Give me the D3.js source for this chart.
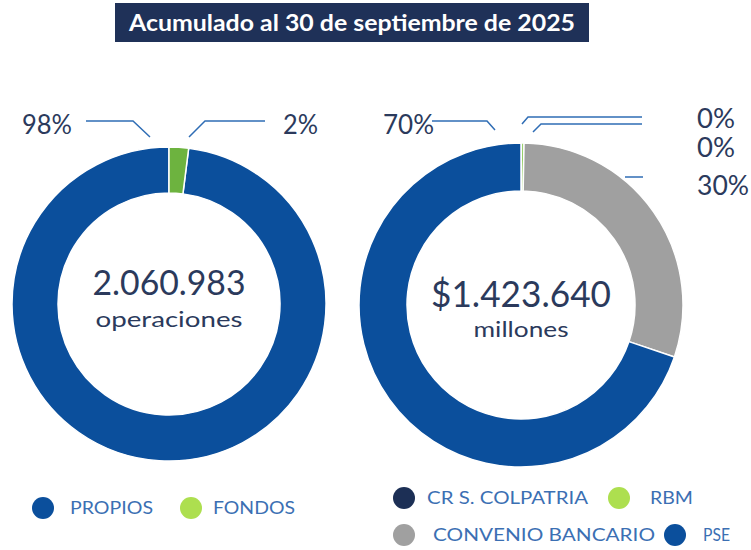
<!DOCTYPE html>
<html>
<head>
<meta charset="utf-8">
<script src="https://cdn.jsdelivr.net/npm/d3@7"></script>
<style>
  body { margin: 0; background: #fff; }
  svg { display: block; font-family: "Lato", "Noto Sans", sans-serif; }
</style>
</head>
<body>
<div id="chart"></div>
<script>
// data
var title = "Acumulado al 30 de septiembre de 2025";

var opsCategories = ["PROPIOS", "FONDOS"];
var opsValues = [98, 2];
var opsTotal = "2.060.983";
var opsUnit = "operaciones";

var amtCategories = ["CR S. COLPATRIA", "RBM", "CONVENIO BANCARIO", "PSE"];
var amtValues = [0.05, 0.25, 29.9, 69.8];
var amtTotal = "$1.423.640";
var amtUnit = "millones";

// colours
var sliceColors = {
  "PROPIOS": "#0b4f9c", "FONDOS": "#6db33f",
  "CR S. COLPATRIA": "#1c2f55", "RBM": "#7cc142",
  "CONVENIO BANCARIO": "#a0a0a0", "PSE": "#0b4f9c"
};
var legendColors = {
  "PROPIOS": "#0b4f9c", "FONDOS": "#addf4f",
  "CR S. COLPATRIA": "#1c2f55", "RBM": "#addf4f",
  "CONVENIO BANCARIO": "#a0a0a0", "PSE": "#0b4f9c"
};
var textColor = "#2b3a5c";
var lineColor = "#2f6db5";
var legendText = "#3b6fb3";

var width = 751, height = 550;

var svg = d3.select("#chart").append("svg")
    .attr("width", width)
    .attr("height", height);

// title box
svg.append("rect")
    .attr("x", 115).attr("y", 3)
    .attr("width", 474).attr("height", 39)
    .attr("fill", "#1f3158");
svg.append("text")
    .attr("x", 352).attr("y", 31)
    .attr("text-anchor", "middle")
    .attr("fill", "#fff")
    .attr("font-weight", "bold")
    .attr("font-size", 23)
    .attr("textLength", 446)
    .attr("lengthAdjust", "spacingAndGlyphs")
    .text(title);

// label layout: leader polylines and text positions
var opsLabels = [
  {pts: [[150, 137], [133, 121], [86, 121]], tx: 22, ty: 134, len: 50},
  {pts: [[189, 137], [205, 121], [265, 121]], tx: 283, ty: 134, len: 35}
];
var amtLabels = [
  {pts: [[522, 124], [528, 117], [642, 117]], tx: 697, ty: 128, len: 38},
  {pts: [[533, 132], [541, 124], [642, 124]], tx: 697, ty: 157, len: 38},
  {pts: [[625, 177], [643, 177]], tx: 697, ty: 195, len: 52},
  {pts: [[495, 130], [487, 121], [432, 121]], tx: 383, ty: 134, len: 51}
];

function donut(cfg) {
  var total = d3.sum(cfg.values);
  var offset = cfg.rotateLast ? 2 * Math.PI * cfg.values[cfg.values.length - 1] / total : 0;
  var pie = d3.pie().sort(null)
      .startAngle(offset).endAngle(offset + 2 * Math.PI);
  var arc = d3.arc().innerRadius(cfg.ri).outerRadius(cfg.ro);

  var data = cfg.categories.map(function(c, i) { return {key: c, value: cfg.values[i]}; });

  var g = svg.append("g")
      .attr("transform", "translate(" + cfg.cx + "," + cfg.cy + ")");

  g.selectAll("path")
    .data(pie.value(function(d) { return d.value; })(data))
    .enter().append("path")
      .attr("d", arc)
      .attr("fill", function(d) { return sliceColors[d.data.key]; })
      .attr("stroke", "#fff")
      .attr("stroke-width", 1.5);

  // centre text
  g.append("text")
      .attr("y", cfg.bigY)
      .attr("text-anchor", "middle")
      .attr("fill", textColor)
      .attr("font-size", cfg.bigSize)
      .attr("textLength", cfg.bigLen)
      .attr("lengthAdjust", "spacingAndGlyphs")
      .text(cfg.total);
  g.append("text")
      .attr("y", cfg.smallY)
      .attr("text-anchor", "middle")
      .attr("fill", textColor)
      .attr("font-size", 22)
      .attr("textLength", cfg.smallLen)
      .attr("lengthAdjust", "spacingAndGlyphs")
      .text(cfg.unit);

  // percent labels with leaders
  var line = d3.line();
  data.forEach(function(d, i) {
    var lab = cfg.labels[i];
    svg.append("path")
        .attr("d", line(lab.pts))
        .attr("fill", "none")
        .attr("stroke", lineColor)
        .attr("stroke-width", 1.5);
    svg.append("text")
        .attr("x", lab.tx).attr("y", lab.ty)
        .attr("fill", textColor)
        .attr("font-size", 26)
        .attr("textLength", lab.len)
        .attr("lengthAdjust", "spacingAndGlyphs")
        .text(Math.round(d.value / total * 100) + "%");
  });
}

donut({categories: opsCategories, values: opsValues, total: opsTotal, unit: opsUnit,
       cx: 169, cy: 304, ro: 157, ri: 111, rotateLast: true, labels: opsLabels,
       bigY: -9, bigSize: 35, bigLen: 153, smallY: 23, smallLen: 147});

donut({categories: amtCategories, values: amtValues, total: amtTotal, unit: amtUnit,
       cx: 521, cy: 305, ro: 162, ri: 114, rotateLast: false, labels: amtLabels,
       bigY: 2, bigSize: 37, bigLen: 180, smallY: 32, smallLen: 95});

// legends
function legend(items, rows) {
  items.forEach(function(c, i) {
    var p = rows[i];
    svg.append("circle")
        .attr("cx", p[0]).attr("cy", p[1]).attr("r", 11)
        .attr("fill", legendColors[c]);
    svg.append("text")
        .attr("x", p[2]).attr("y", p[1] + 6)
        .attr("fill", legendText)
        .attr("font-size", 17)
        .attr("textLength", p[3])
        .attr("lengthAdjust", "spacingAndGlyphs")
        .text(c);
  });
}

legend(opsCategories, [[43, 508, 70, 83], [191, 508, 213, 82]]);
legend(amtCategories, [[404, 498, 427, 161], [619, 498, 650, 43],
                       [404, 535, 433, 222], [675, 535, 703, 27]]);
</script>
</body>
</html>
